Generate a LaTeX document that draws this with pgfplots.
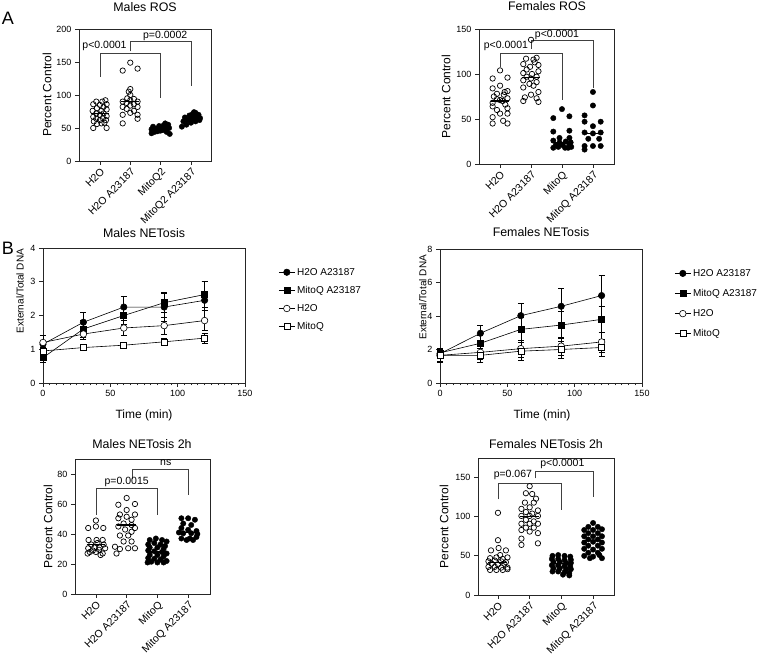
\documentclass[border=0pt]{standalone}
\usepackage{fontspec}
\setmainfont{Liberation Sans}
\usepackage{pgfplots}
\pgfplotsset{compat=1.18}

\newcommand{\fs}[1]{\fontsize{#1}{#1}\selectfont}

\pgfplotsset{
  prism/.style={scale only axis, clip=false, anchor=south west,
    axis line style={black!85,line width=0.8pt},
    tick style={black!85,line width=0.8pt},
    tick align=outside, tick pos=left,
    major tick length=4pt, minor tick length=2.5pt,
    tick label style={font=\fs{9}},
    /pgf/number format/assume math mode=true,
    label style={font=\fs{12}}},
  dots/.style={prism, xtick={0,1,2,3}, ymin=0,
    xticklabel style={rotate=45, anchor=north east, font=\fs{10.5}, inner sep=1.5pt},
    ylabel={Percent Control}},
  openpt/.style={only marks, mark=o, mark size=2.7pt, mark options={black, line width=0.7pt}},
  fillpt/.style={only marks, mark=*, mark size=2.7pt, mark options={black}},
  med/.style={black, line width=1.1pt, no marks},
  lns/.style={prism, xmin=0, xmax=150, ymin=0, xtick={0,50,100,150}, minor x tick num=9,
    xlabel={Time (min)}, ylabel={External/Total DNA},
    legend cell align=left,
    legend image code/.code={\draw[mark repeat=2,mark phase=2,##1] plot coordinates {(0pt,0pt) (8pt,0pt) (16pt,0pt)};},
    legend style={draw=none, fill=none, font=\fs{10}, row sep=5.5pt, inner sep=0pt}},
  eb/.style={error bars/.cd, y dir=both, y explicit,
    error bar style={black, line width=0.6pt},
    error mark options={rotate=90, mark size=3pt, black, line width=0.6pt}},
}
\tikzset{br/.style={black!75, line width=0.8pt}, pv/.style={font=\fs{10.5}, anchor=center, inner sep=0pt}}

\begin{document}
\begin{tikzpicture}
\path[use as bounding box] (0pt,0pt) rectangle (764pt,659pt);

% ---------- A: Males ROS
\begin{axis}[dots, at={(79pt,498pt)}, width=132pt, height=132pt,
  xmin=-0.69, xmax=3.66, ymax=200, ytick={0,50,100,150,200},
  xticklabels={H2O,H2O A23187,MitoQ2,MitoQ2 A23187},
  ylabel style={at={(axis description cs:-0.242,0.5)}, anchor=center}]
\addplot[openpt] coordinates {(-0.22,50)(0.22,50)(-0.10,56)(0.05,57)(0.15,58)(-0.20,60)(0.00,62)(0.20,62)(-0.12,64)(0.10,65)(-0.22,67)(0.22,68)(0.00,70)(-0.12,72)(0.12,72)(-0.24,76)(0.05,76)(0.22,78)(-0.10,80)(0.12,82)(-0.22,86)(0.00,85)(0.22,86)(-0.12,90)(0.08,90)(0.18,92)};
\addplot[openpt] coordinates {(0.75,57)(1.24,64)(1.24,70)(0.75,70)(1.00,73)(1.12,76)(0.88,79)(1.24,82)(0.75,82)(1.00,84)(1.12,86)(0.88,88)(1.24,90)(0.75,90)(1.00,92)(1.12,94)(0.90,95)(1.00,100)(0.95,105)(1.00,109)(0.75,137)(1.00,149)(1.24,140)};
\addplot[fillpt] coordinates {(1.70,42)(1.80,44)(1.90,45)(2.00,46)(2.10,47)(2.20,44)(2.30,41)(1.70,48)(1.85,49)(2.00,50)(2.15,51)(2.28,50)(1.75,52)(1.95,53)(2.10,54)(2.25,55)(2.15,57)(2.05,48)(1.90,47)(2.20,48)};
\addplot[fillpt] coordinates {(2.70,52)(2.85,55)(3.00,58)(3.15,60)(3.28,62)(2.75,60)(2.90,62)(3.05,63)(3.20,64)(3.30,65)(2.80,66)(3.00,67)(3.15,68)(3.25,70)(3.05,71)(3.15,73)(2.95,69)(3.10,74)};
\addplot[med] coordinates {(-0.3,72)(0.3,72)};
\addplot[med] coordinates {(0.7,90)(1.3,90)};
\addplot[med] coordinates {(1.7,48)(2.3,48)};
\addplot[med] coordinates {(2.7,63)(3.3,63)};
\draw[br] (axis cs:0,128) -- (axis cs:0,163) -- (axis cs:2,163) -- (axis cs:2,95);
\draw[br] (axis cs:1,166) -- (axis cs:1,181) -- (axis cs:3,181) -- (axis cs:3,114);
\node[pv] at (axis cs:0.15,175) {p<0.0001};
\node[pv] at (axis cs:2.15,190) {p=0.0002};
\end{axis}

% ---------- A: Females ROS
\begin{axis}[dots, at={(479pt,495pt)}, width=135pt, height=135pt,
  xmin=-0.68, xmax=3.68, ymax=150, ytick={0,50,100,150},
  xticklabels={H2O,H2O A23187,MitoQ,MitoQ A23187},
  ylabel style={at={(axis description cs:-0.244,0.5)}, anchor=center}]
\addplot[openpt] coordinates {(0.00,104)(-0.24,95)(0.24,96)(0.00,87)(-0.24,84)(0.24,81)(-0.10,78)(0.12,77)(-0.20,75)(0.24,73)(0.00,71)(-0.24,68)(0.17,66)(-0.24,64)(0.24,62)(-0.10,60)(0.00,56)(0.24,56)(-0.24,52)(0.10,48)(-0.24,45)(0.24,45)(0.08,70)(-0.10,72)(0.15,80)};
\addplot[openpt] coordinates {(1.00,138)(0.84,117)(1.08,116)(1.18,118)(1.12,113)(0.75,111)(1.24,110)(0.97,108)(0.86,105)(1.24,103)(0.75,101)(1.03,100)(0.86,97)(1.18,97)(1.00,95)(0.75,93)(1.18,91)(0.95,89)(1.08,87)(0.75,85)(1.24,80)(1.00,77)(0.80,74)(1.18,73)(0.75,70)(1.24,69)};
\addplot[fillpt] coordinates {(2.00,61)(1.72,51)(2.24,53)(2.24,37)(1.72,36)(1.92,29)(2.24,29)(1.72,18)(2.10,18)(2.30,19)(1.80,21)(2.02,21)(2.24,22)(1.92,24)(2.12,25)(1.72,26)(2.28,24)(1.88,19)(2.20,18)};
\addplot[fillpt] coordinates {(3.00,80)(3.00,65)(2.73,54)(3.25,47)(2.73,47)(3.00,42)(2.73,35)(3.25,35)(3.00,34)(2.85,28)(3.20,28)(2.73,20)(3.00,20)(3.25,20)(2.73,16)};
\addplot[med] coordinates {(-0.3,70)(0.3,70)};
\addplot[med] coordinates {(0.7,96)(1.3,96)};
\addplot[med] coordinates {(1.7,24)(2.3,24)};
\addplot[med] coordinates {(2.7,34)(3.3,34)};
\draw[br] (axis cs:0,108) -- (axis cs:0,123) -- (axis cs:2,123) -- (axis cs:2,71);
\draw[br] (axis cs:1,128) -- (axis cs:1,137) -- (axis cs:3,137) -- (axis cs:3,84);
\node[pv] at (axis cs:0.19,131) {p<0.0001};
\node[pv] at (axis cs:1.84,143) {p<0.0001};
\end{axis}

% ---------- B: Males NETosis
\begin{axis}[lns, at={(43pt,276pt)}, width=202pt, height=135pt,
  ymax=4, ytick={0,1,2,3,4},
  xlabel style={at={(axis description cs:0.5,-0.237)}, anchor=center},
  ylabel style={at={(axis description cs:-0.114,0.68)}, anchor=center, font=\fs{10}},
  legend style={at={(axis description cs:1.165,0.868)}, anchor=north west}]
\addplot[black, line width=0.6pt, mark=*, mark size=3.2pt, eb] coordinates {(0,1.15)+-(0,0.25) (30,1.80)+-(0,0.28) (60,2.25)+-(0,0.32) (90,2.25)+-(0,0.42) (120,2.45)+-(0,0.55)};
\addplot[black, line width=0.6pt, mark=square*, mark size=3pt, eb] coordinates {(0,0.75)+-(0,0.15) (30,1.60)+-(0,0.25) (60,2.00)+-(0,0.25) (90,2.38)+-(0,0.30) (120,2.62)+-(0,0.38)};
\addplot[black, line width=0.6pt, mark=*, mark size=3.3pt, mark options={fill=white}, eb] coordinates {(0,1.20)+-(0,0.20) (30,1.45)+-(0,0.15) (60,1.63)+-(0,0.22) (90,1.70)+-(0,0.25) (120,1.85)+-(0,0.30)};
\addplot[black, line width=0.6pt, mark=square*, mark size=3pt, mark options={fill=white}, eb] coordinates {(0,0.95)+-(0,0.10) (30,1.05)+-(0,0.08) (60,1.12)+-(0,0.08) (90,1.22)+-(0,0.10) (120,1.33)+-(0,0.15)};
\legend{H2O A23187, MitoQ A23187, H2O, MitoQ}
\end{axis}

% ---------- B: Females NETosis
\begin{axis}[lns, at={(440pt,276pt)}, width=202pt, height=134pt,
  ymax=8, ytick={0,2,4,6,8},
  xlabel style={at={(axis description cs:0.505,-0.239)}, anchor=center},
  ylabel style={at={(axis description cs:-0.085,0.64)}, anchor=center, font=\fs{10}},
  legend style={at={(axis description cs:1.16,0.866)}, anchor=north west, row sep=7.5pt}]
\addplot[black, line width=0.6pt, mark=*, mark size=3.2pt, eb] coordinates {(0,1.75)+-(0,0.30) (30,2.97)+-(0,0.50) (60,4.02)+-(0,0.75) (90,4.58)+-(0,1.07) (120,5.22)+-(0,1.23)};
\addplot[black, line width=0.6pt, mark=square*, mark size=3pt, eb] coordinates {(0,1.80)+-(0,0.30) (30,2.37)+-(0,0.50) (60,3.20)+-(0,0.75) (90,3.46)+-(0,0.80) (120,3.80)+-(0,0.80)};
\addplot[black, line width=0.6pt, mark=*, mark size=3.3pt, mark options={fill=white}, eb] coordinates {(0,1.65)+-(0,0.40) (30,1.83)+-(0,0.40) (60,2.05)+-(0,0.50) (90,2.20)+-(0,0.55) (120,2.45)+-(0,0.60)};
\addplot[black, line width=0.6pt, mark=square*, mark size=3pt, mark options={fill=white}, eb] coordinates {(0,1.65)+-(0,0.35) (30,1.65)+-(0,0.40) (60,1.90)+-(0,0.53) (90,2.00)+-(0,0.50) (120,2.12)+-(0,0.50)};
\legend{H2O A23187, MitoQ A23187, H2O, MitoQ}
\end{axis}

% ---------- Males NETosis 2h
\begin{axis}[dots, at={(75pt,65pt)}, width=135pt, height=135pt,
  xmin=-0.68, xmax=3.71, ymax=90, ytick={0,20,40,60,80},
  xticklabels={H2O,H2O A23187,MitoQ,MitoQ A23187},
  ylabel style={at={(axis description cs:-0.2,0.5)}, anchor=center}]
\addplot[openpt] coordinates {(0.00,49)(-0.25,44)(0.00,45)(0.24,44)(-0.24,36)(0.02,36)(0.22,36)(-0.15,33)(0.05,34)(0.25,33)(-0.25,30.5)(-0.05,31)(0.12,31)(0.30,30.5)(-0.20,28)(0.00,28)(0.22,27)(-0.10,29)(0.10,29.5)(0.15,26)(-0.27,27)};
\addplot[openpt] coordinates {(1.00,64)(0.73,59.5)(1.27,60)(1.00,56)(0.78,53)(1.27,53)(1.00,51.5)(0.73,50.5)(1.16,49.5)(0.90,47)(1.16,46)(0.73,45)(1.27,44)(0.95,43)(1.16,41.5)(0.78,39)(1.05,39)(1.16,35)(0.90,35)(0.62,31.5)(0.78,30)(1.05,30.5)(1.27,30.5)(0.67,27)};
\addplot[fillpt] coordinates {(1.75,36)(1.95,37)(2.15,36)(2.30,35)(1.70,33)(1.90,34)(2.10,33)(2.25,32)(1.75,31)(2.00,31)(2.20,30)(1.70,29)(1.90,28.5)(2.15,28)(2.30,27)(1.75,26)(2.00,26)(2.20,25)(1.70,24)(1.90,23.5)(2.10,23)(2.30,22)(1.80,21.5)(2.00,21)(2.20,21)(1.68,21)};
\addplot[fillpt] coordinates {(2.78,50.5)(3.00,50.5)(3.22,49.5)(2.84,47)(3.10,46)(2.78,44)(3.00,42.8)(3.27,42)(2.84,40.5)(3.10,40.5)(3.30,40)(2.78,37)(3.05,37)(3.27,38)(2.95,36)(3.16,36)(2.70,41)};
\addplot[med] coordinates {(-0.3,33)(0.3,33)};
\addplot[med] coordinates {(0.7,46)(1.3,46)};
\addplot[med] coordinates {(1.7,28)(2.3,28)};
\addplot[med] coordinates {(2.7,41)(3.3,41)};
\draw[br] (axis cs:0,53) -- (axis cs:0,70.4) -- (axis cs:2,70.4) -- (axis cs:2,53);
\draw[br] (axis cs:1.2,77) -- (axis cs:1.2,83) -- (axis cs:3,83) -- (axis cs:3,66);
\node[pv] at (axis cs:1,74.5) {p=0.0015};
\node[pv] at (axis cs:2.27,87.5) {ns};
\end{axis}

% ---------- Females NETosis 2h
\begin{axis}[dots, at={(478pt,64pt)}, width=136pt, height=137pt,
  xmin=-0.63, xmax=3.66, ymax=175, ytick={0,50,100,150},
  xticklabels={H2O,H2O A23187,MitoQ,MitoQ A23187},
  ylabel style={at={(axis description cs:-0.25,0.5)}, anchor=center}]
\addplot[openpt] coordinates {(0.00,105)(0.00,70)(-0.22,57)(0.02,60)(0.25,57)(-0.25,47)(-0.05,48)(0.15,46)(0.30,48)(-0.30,43)(-0.10,44)(0.10,43)(0.25,42)(-0.20,40)(0.00,39)(0.20,40)(-0.30,36)(-0.10,36)(0.10,35)(0.30,35)(-0.25,32)(-0.05,32)(0.15,32)(0.30,33)(0.07,51)};
\addplot[openpt] coordinates {(1.00,139)(0.88,130)(1.08,129)(1.20,123)(0.85,118)(1.13,118)(0.74,110)(1.00,112)(1.26,108)(0.88,106)(1.08,104)(0.74,101)(1.00,101)(1.26,101)(0.88,96)(1.13,94)(0.74,91)(1.00,91)(1.26,91)(0.88,86)(1.13,86)(0.74,83)(1.00,81)(1.26,79)(0.74,72)(0.74,64)(1.26,66)};
\addplot[fillpt] coordinates {(1.72,50)(1.90,51)(2.10,50)(2.28,49)(1.70,46)(1.90,46)(2.10,45)(2.30,45)(1.75,42)(1.95,42)(2.15,41)(2.30,41)(1.70,38)(1.90,38)(2.10,37)(2.28,37)(1.75,34)(1.95,34)(2.15,33)(2.30,33)(1.72,30)(1.90,30)(2.10,29)(2.25,28)(2.25,25)(2.05,26)};
\addplot[fillpt] coordinates {(3.00,92)(2.85,87)(3.15,87)(2.72,83)(3.00,83)(3.28,84)(2.85,79)(3.15,79)(2.72,75)(3.00,75)(3.28,75)(2.85,71)(3.15,71)(2.72,67)(3.00,68)(3.28,67)(2.85,63)(3.15,63)(2.72,59)(3.00,58)(3.28,59)(2.85,54)(3.15,54)(2.72,50)(3.00,49)(3.28,47)(2.90,47)(3.20,51)};
\addplot[med] coordinates {(-0.3,42)(0.3,42)};
\addplot[med] coordinates {(0.7,100)(1.3,100)};
\addplot[med] coordinates {(1.7,40)(2.3,40)};
\addplot[med] coordinates {(2.7,70)(3.3,70)};
\draw[br] (axis cs:0,122) -- (axis cs:0,143) -- (axis cs:2,143) -- (axis cs:2,109);
\draw[br] (axis cs:1.19,149) -- (axis cs:1.19,158) -- (axis cs:3,158) -- (axis cs:3,125);
\node[pv] at (axis cs:0.47,154) {p=0.067};
\node[pv] at (axis cs:2.03,167) {p<0.0001};
\end{axis}

% titles and panel letters
\node[font=\fs{12.4}] at (145pt,652pt) {Males ROS};
\node[font=\fs{12.4}] at (547pt,653pt) {Females ROS};
\node[font=\fs{12.4}] at (144pt,426pt) {Males NETosis};
\node[font=\fs{12.4}] at (541pt,427pt) {Females NETosis};
\node[font=\fs{12.4}] at (142pt,215pt) {Males NETosis 2h};
\node[font=\fs{12.4}] at (546pt,215pt) {Females NETosis 2h};
\node[font=\fs{18}] at (8pt,641pt) {A};
\node[font=\fs{18}] at (8pt,411pt) {B};
\end{tikzpicture}
\end{document}
